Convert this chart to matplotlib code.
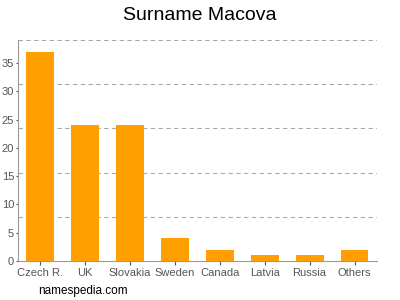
import matplotlib
matplotlib.use("Agg")
import matplotlib.pyplot as plt

categories = ["Czech R.", "UK", "Slovakia", "Sweden", "Canada", "Latvia", "Russia", "Others"]
values = [37, 24, 24, 4, 2, 1, 1, 2]
yticks = [0, 5, 10, 15, 20, 25, 30, 35]

plt.rcParams['font.family'] = ['Liberation Sans', 'DejaVu Sans']
fig = plt.figure(figsize=(4, 3), dpi=100)
ax = fig.add_axes([0.044, 0.13, 0.8985, 0.7367])
ymax = 39.1
ax.bar(range(len(categories)), values, width=0.62, color="#FFA000", zorder=3)
ax.set_xlim(-0.5, len(categories) - 0.5)
ax.set_ylim(0, ymax)
for k in range(1, 6):
    ax.axhline(ymax * k / 5, color="#AAAAAA", linestyle=(0, (4, 3)), linewidth=0.8, zorder=1)
ax.set_yticks(yticks)
ax.set_xticks(range(len(categories)))
ax.set_xticklabels(categories)
ax.tick_params(colors="#555555", labelsize=8, width=0.8)
ax.tick_params(axis="x", pad=2, length=3)
ax.tick_params(axis="y", pad=1, length=1.5)
for s in ["top", "right"]:
    ax.spines[s].set_visible(False)
for s in ["left", "bottom"]:
    ax.spines[s].set_color("#999999")
    ax.spines[s].set_linewidth(0.8)
fig.text(0.5, 0.95, "Surname Macova", ha="center", va="center", fontsize=14, color="#000000")
fig.text(0.095, 0.03, "namespedia.com", ha="left", va="center", fontsize=8.5, color="#000000")
fig.savefig("out.png", dpi=100)
